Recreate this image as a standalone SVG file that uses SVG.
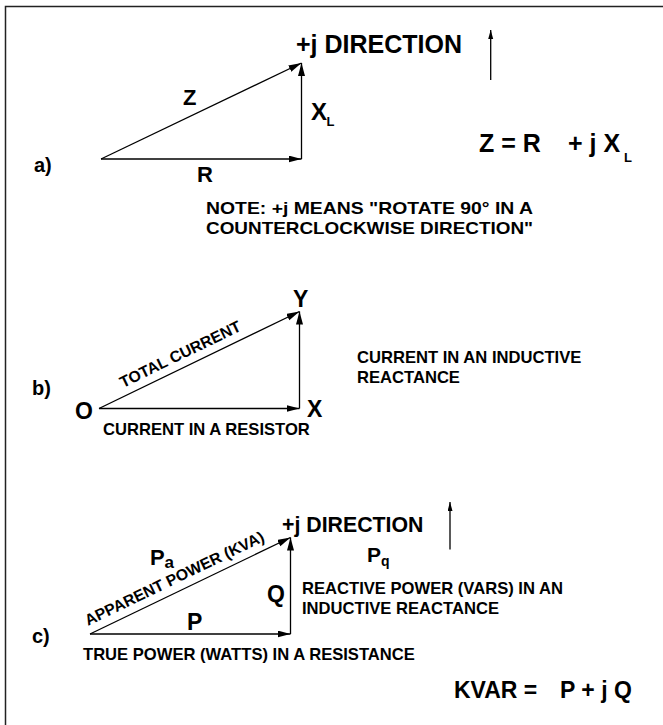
<svg xmlns="http://www.w3.org/2000/svg" width="663" height="725" viewBox="0 0 663 725">
<style>
text{font-family:"Liberation Sans",Arial,sans-serif;font-weight:bold;fill:#000}
.vec{stroke:#000;stroke-width:1.3;fill:none}
.big{font-size:23px}
.sm{font-size:16.6px}
.rot{font-size:15.8px}
.sub{font-size:13px}
</style>
<defs>
<marker id="ah" markerUnits="userSpaceOnUse" markerWidth="14" markerHeight="8" refX="13" refY="3.5" orient="auto">
<path d="M0,0 L13,3.5 L0,7 z" fill="#000"/>
</marker>
<marker id="ahs" markerUnits="userSpaceOnUse" markerWidth="10" markerHeight="6" refX="9" refY="2.5" orient="auto">
<path d="M0,0 L9,2.5 L0,5 z" fill="#000"/>
</marker>
</defs>
<rect width="663" height="725" fill="#fff"/>
<path d="M5.5,725 V6.5 H663" fill="none" stroke="#222" stroke-width="1.5"/>

<g id="connectors">
<line class="vec" x1="101" y1="159" x2="301.5" y2="159" marker-end="url(#ah)"/>
<line class="vec" x1="301.5" y1="159" x2="301.5" y2="63" marker-end="url(#ah)"/>
<line class="vec" x1="101" y1="159" x2="301.5" y2="63" marker-end="url(#ah)"/>
<line class="vec" x1="490.7" y1="80" x2="490.7" y2="30" marker-end="url(#ahs)"/>

<line class="vec" x1="99" y1="408.5" x2="299.5" y2="408.5" marker-end="url(#ah)"/>
<line class="vec" x1="299.5" y1="408.5" x2="299.5" y2="311.5" marker-end="url(#ah)"/>
<line class="vec" x1="99" y1="408.5" x2="299.5" y2="311.5" marker-end="url(#ah)"/>

<line class="vec" x1="90" y1="634" x2="290.5" y2="634" marker-end="url(#ah)"/>
<line class="vec" x1="290.5" y1="634" x2="290.5" y2="537.5" marker-end="url(#ah)"/>
<line class="vec" x1="90" y1="634" x2="290.5" y2="537.5" marker-end="url(#ah)"/>
<line class="vec" x1="450" y1="549.5" x2="450" y2="502" marker-end="url(#ahs)"/>
</g>

<g id="section-a">
<text x="34" y="172" font-size="20px">a)</text>
<text x="296" y="53" font-size="25px">+j DIRECTION</text>
<text x="183" y="105" font-size="22px">Z</text>
<text x="311" y="120" font-size="24px">X</text>
<text x="326.5" y="126" class="sub">L</text>
<text x="197" y="182" font-size="22px">R</text>
<text x="479" y="152" font-size="25px">Z = R</text>
<text x="568" y="152" font-size="25px">+ j X</text>
<text x="624" y="162" class="sub">L</text>
<text x="206" y="214" class="sm" textLength="327" lengthAdjust="spacingAndGlyphs">NOTE:  +j MEANS "ROTATE 90° IN A</text>
<text x="206" y="234" class="sm" textLength="327" lengthAdjust="spacingAndGlyphs">COUNTERCLOCKWISE DIRECTION"</text>
</g>

<g id="section-b">
<text x="32" y="395" font-size="20px">b)</text>
<text x="293" y="307" class="big">Y</text>
<text x="307" y="417" class="big">X</text>
<text x="75" y="419" class="big">O</text>
<text class="rot" transform="translate(123,388) rotate(-25.9)">TOTAL CURRENT</text>
<text x="103" y="435" class="sm">CURRENT IN A RESISTOR</text>
<text x="357" y="363" class="sm">CURRENT IN AN INDUCTIVE</text>
<text x="357" y="383" class="sm">REACTANCE</text>
</g>

<g id="section-c">
<text x="32" y="643" font-size="20px">c)</text>
<text x="282" y="532" font-size="21.3px">+j DIRECTION</text>
<text x="150" y="565" font-size="22px">P</text>
<text x="164.5" y="568" font-size="17px">a</text>
<text x="367" y="562" font-size="21px">P</text>
<text x="381" y="566" font-size="14px">q</text>
<text class="rot" transform="translate(88,626) rotate(-25.7)">APPARENT POWER (KVA)</text>
<text x="267" y="602" class="big">Q</text>
<text x="187" y="630" class="big">P</text>
<text x="302" y="594" class="sm">REACTIVE POWER (VARS) IN AN</text>
<text x="302" y="613.5" class="sm">INDUCTIVE REACTANCE</text>
<text x="83" y="660" class="sm">TRUE POWER (WATTS) IN A RESISTANCE</text>
<text x="454" y="698" class="big">KVAR =</text>
<text x="560" y="698" class="big">P + j Q</text>
</g>
</svg>
